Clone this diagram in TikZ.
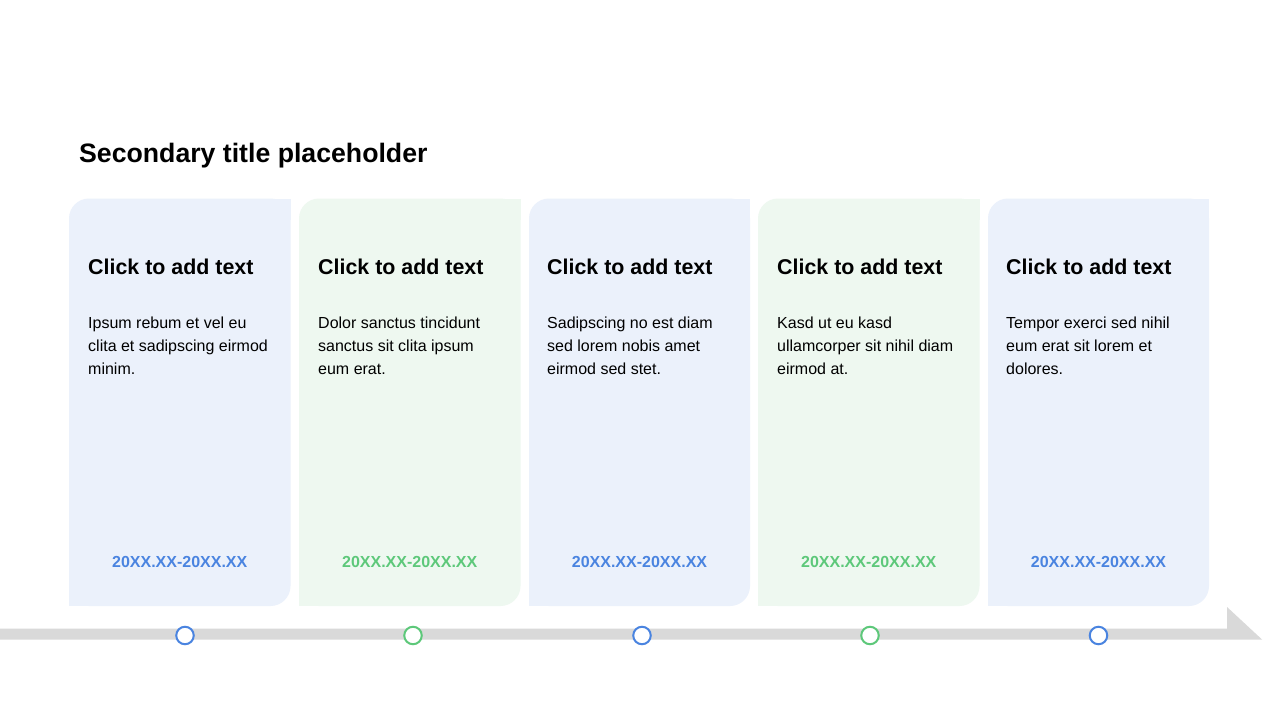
\documentclass[tikz,border=0pt]{standalone}
\usepackage{fontspec}
\setmainfont{Liberation Sans}
\definecolor{cardblue}{HTML}{EBF1FB}
\definecolor{cardgreen}{HTML}{EEF8F0}
\definecolor{accblue}{HTML}{4A84E0}
\definecolor{accgreen}{HTML}{5DC87A}
\definecolor{bargray}{HTML}{D9D9D9}
\tikzset{
  titletext/.style={anchor=base west, inner sep=0pt, font=\fontsize{26.67}{32}\selectfont\bfseries},
  headtext/.style={anchor=base west, inner sep=0pt, font=\fontsize{21.4}{25}\selectfont\bfseries},
  bodytext/.style={anchor=base west, inner sep=0pt, align=left, font=\fontsize{16}{23}\selectfont},
  datetext/.style={anchor=base, inner sep=0pt, font=\fontsize{16}{19}\selectfont\bfseries},
  marker/.style={circle, fill=white, line width=2pt, minimum size=17.5pt, inner sep=0pt},
}
\newcommand{\drawcard}[3]{%
  \fill[#3, rounded corners=20pt] (#1,198.5) rectangle (#2,606);
  \fill[#3] (#2-20,198.5) rectangle (#2,220);
  \fill[#3] (#1,585) rectangle (#1+20,606);
}
\begin{document}
\begin{tikzpicture}[x=1pt,y=-1pt]
\useasboundingbox (0,0) rectangle (1280,720);
\fill[white] (0,0) rectangle (1280,720);

\node[titletext] (title) at (79,162.5) {Secondary title placeholder};

% cards
\drawcard{69}{290.5}{cardblue}
\drawcard{299}{520.5}{cardgreen}
\drawcard{529}{750}{cardblue}
\drawcard{758}{979.5}{cardgreen}
\drawcard{988}{1209}{cardblue}

% headings
\node[headtext] (h1) at (88,274) {Click to add text};
\node[headtext] (h2) at (318,274) {Click to add text};
\node[headtext] (h3) at (547,274) {Click to add text};
\node[headtext] (h4) at (777,274) {Click to add text};
\node[headtext] (h5) at (1006,274) {Click to add text};

% bodies
\node[bodytext] (b1) at (88,374) {Ipsum rebum et vel eu\\clita et sadipscing eirmod\\minim.};
\node[bodytext] (b2) at (318,374) {Dolor sanctus tincidunt\\sanctus sit clita ipsum\\eum erat.};
\node[bodytext] (b3) at (547,374) {Sadipscing no est diam\\sed lorem nobis amet\\eirmod sed stet.};
\node[bodytext] (b4) at (777,374) {Kasd ut eu kasd\\ullamcorper sit nihil diam\\eirmod at.};
\node[bodytext] (b5) at (1006,374) {Tempor exerci sed nihil\\eum erat sit lorem et\\dolores.};

% dates
\node[datetext, text=accblue] (d1) at (179.75,567) {20XX.XX-20XX.XX};
\node[datetext, text=accgreen] (d2) at (409.75,567) {20XX.XX-20XX.XX};
\node[datetext, text=accblue] (d3) at (639.5,567) {20XX.XX-20XX.XX};
\node[datetext, text=accgreen] (d4) at (868.75,567) {20XX.XX-20XX.XX};
\node[datetext, text=accblue] (d5) at (1098.5,567) {20XX.XX-20XX.XX};

% timeline arrow
\coordinate (barstart) at (0,628.5);
\coordinate (tip) at (1262,639.5);
\fill[bargray] (barstart) -- (1227,628.5) -- (1227,607) -- (tip) -- (0,639.5) -- cycle;

% markers
\node[marker, draw=accblue] (m1) at (185,635.5) {};
\node[marker, draw=accgreen] (m2) at (413,635.5) {};
\node[marker, draw=accblue] (m3) at (642,635.5) {};
\node[marker, draw=accgreen] (m4) at (870,635.5) {};
\node[marker, draw=accblue] (m5) at (1098.5,635.5) {};
\end{tikzpicture}
\end{document}
